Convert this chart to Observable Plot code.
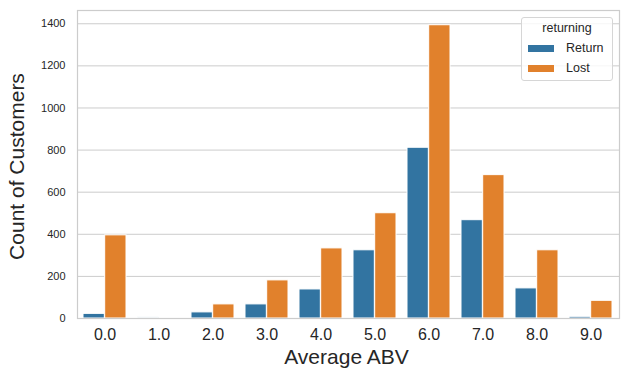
<!DOCTYPE html>
<html>
<head>
<meta charset="utf-8">
<script src="https://cdn.jsdelivr.net/npm/d3@7"></script>
<script src="https://cdn.jsdelivr.net/npm/@observablehq/plot@0.6"></script>
<style>
  body { margin: 0; background: #fff; font-family: "Liberation Sans", Arial, sans-serif; }
  #wrap { position: relative; width: 628px; height: 378px; }
  #legend { position: absolute; left: 521px; top: 17px; width: 90px; height: 62px;
    border: 1px solid #d6d6d6; border-radius: 3px; background: rgba(255,255,255,0.8);
    font-size: 12.5px; color: #262626; }
  #legend .title { position: absolute; left: 0; width: 100%; top: 3px; text-align: center; }
  #legend .row { position: absolute; left: 6px; height: 16px; }
  #legend .sw { position: absolute; left: 0; top: 5px; width: 26px; height: 7px; }
  #legend .lab { position: absolute; left: 38px; top: 0; line-height: 16px; }
</style>
</head>
<body>
<div id="wrap"></div>
<script>
const categories = ["0.0","1.0","2.0","3.0","4.0","5.0","6.0","7.0","8.0","9.0"];
const groups = ["Return", "Lost"];
const returnCounts = [22, 5, 29, 67, 138, 324, 811, 467, 143, 8];
const lostCounts = [395, 0, 67, 181, 333, 500, 1393, 681, 324, 84];
const yTicks = [0, 200, 400, 600, 800, 1000, 1200, 1400];
const colors = ["#3274a1", "#e1812c"];

const data = categories.flatMap((c, i) => [
  {abv: c, returning: "Return", count: returnCounts[i]},
  {abv: c, returning: "Lost", count: lostCounts[i]}
]);

const W = 628, H = 378, mL = 77, mR = 9, mT = 10, mB = 60;
const step = (W - mL - mR) / categories.length;
const bw = step * 0.8;
const half = bw / 2;
const ink = "#262626";

const chart = Plot.plot({
  width: W, height: H,
  marginLeft: mL, marginRight: mR, marginTop: mT, marginBottom: mB,
  style: {fontFamily: "'Liberation Sans', Arial, sans-serif", background: "#fff"},
  x: {domain: categories, paddingInner: 0.2, paddingOuter: 0.1, axis: null},
  y: {domain: [0, 1463], axis: null},
  color: {domain: groups, range: colors},
  marks: [
    Plot.gridY(yTicks, {stroke: "#cccccc", strokeOpacity: 1, strokeWidth: 1}),
    Plot.barY(data.filter(d => d.returning === "Return"), {x: "abv", y: "count", fill: "returning", insetRight: half, stroke: "white", strokeWidth: 1}),
    Plot.barY(data.filter(d => d.returning === "Lost"), {x: "abv", y: "count", fill: "returning", insetLeft: half, stroke: "white", strokeWidth: 1}),
    Plot.frame({stroke: "#cccccc", strokeWidth: 1.2}),
    Plot.axisY(yTicks, {tickSize: 0, tickPadding: 12, fontSize: 11, fill: ink, label: null, tickFormat: d => String(d)}),
    Plot.axisX({tickSize: 0, tickPadding: 10, fontSize: 16, fill: ink, label: null}),
    Plot.text(["Average ABV"], {frameAnchor: "bottom", lineAnchor: "middle", textAnchor: "middle", dy: 39, dx: -2, fontSize: 21, fill: ink}),
    Plot.text(["Count of Customers"], {frameAnchor: "left", lineAnchor: "middle", textAnchor: "middle", dx: -60, dy: 2, rotate: -90, fontSize: 21, fill: ink})
  ]
});

const wrap = document.getElementById("wrap");
wrap.appendChild(chart);

const legend = document.createElement("div");
legend.id = "legend";
let html = '<div class="title">returning</div>';
groups.forEach((g, i) => {
  html += `<div class="row" style="top:${22 + i * 20}px"><div class="sw" style="background:${colors[i]}"></div><div class="lab">${g}</div></div>`;
});
legend.innerHTML = html;
wrap.appendChild(legend);
</script>
</body>
</html>
